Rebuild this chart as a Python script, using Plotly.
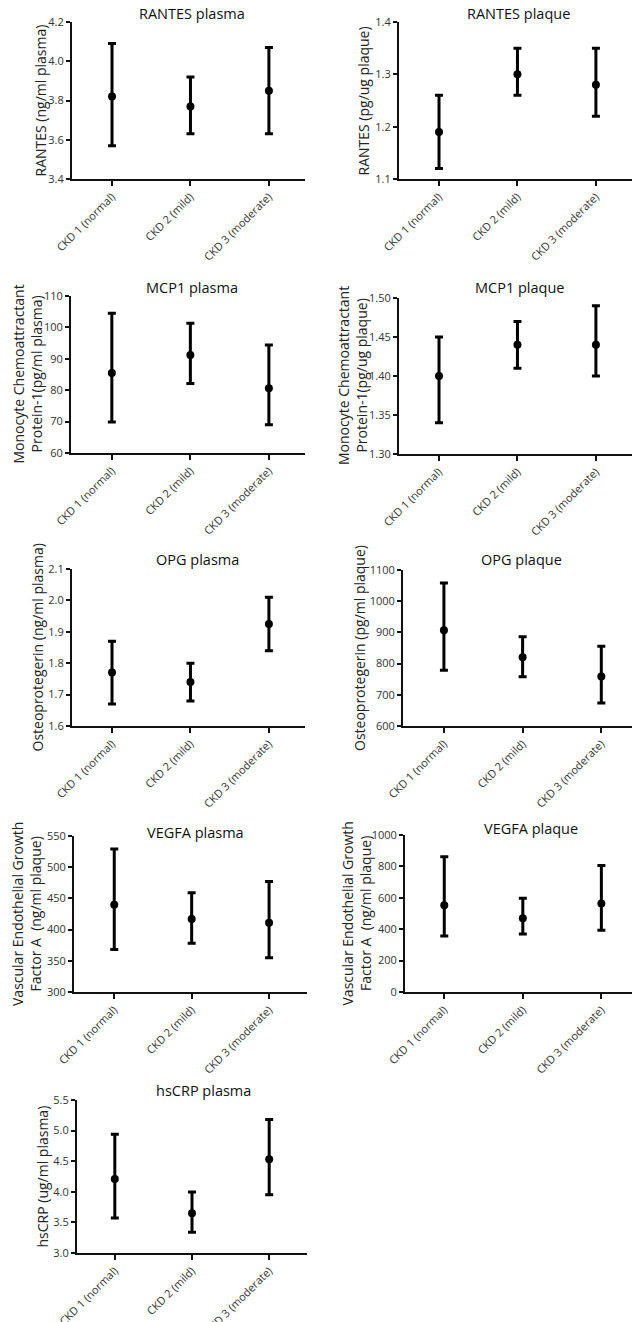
import plotly.graph_objects as go

W, H = 632, 1322

categories = ["CKD 1 (normal)", "CKD 2 (mild)", "CKD 3 (moderate)"]

# Panel titles and axis titles
titles = ["RANTES plasma", "RANTES plaque", "MCP1 plasma", "MCP1 plaque",
          "OPG plasma", "OPG plaque", "VEGFA plasma", "VEGFA plaque", "hsCRP plasma"]
ytitles = ["RANTES (ng/ml plasma)", "RANTES (pg/ug plaque)",
           "Monocyte Chemoattractant<br>Protein-1(pg/ml plasma)",
           "Monocyte Chemoattractant<br>Protein-1(pg/ug plaque)",
           "Osteoprotegerin (ng/ml plasma)", "Osteoprotegerin (pg/ml plaque)",
           "Vascular Endothelial Growth<br>Factor A  (ng/ml plaque)",
           "Vascular Endothelial Growth<br>Factor A  (ng/ml plaque)",
           "hsCRP (ug/ml plasma)"]

# Values (mean, upper, lower) per panel
rantes_plasma_mean = [3.82, 3.77, 3.85]
rantes_plasma_hi = [4.09, 3.92, 4.07]
rantes_plasma_lo = [3.57, 3.63, 3.63]

rantes_plaque_mean = [1.19, 1.30, 1.28]
rantes_plaque_hi = [1.26, 1.35, 1.35]
rantes_plaque_lo = [1.12, 1.26, 1.22]

mcp1_plasma_mean = [85.5, 91.2, 80.6]
mcp1_plasma_hi = [104.5, 101.3, 94.4]
mcp1_plasma_lo = [69.9, 82.1, 69.0]

mcp1_plaque_mean = [1.40, 1.44, 1.44]
mcp1_plaque_hi = [1.45, 1.47, 1.49]
mcp1_plaque_lo = [1.34, 1.41, 1.40]

opg_plasma_mean = [1.77, 1.74, 1.925]
opg_plasma_hi = [1.87, 1.80, 2.01]
opg_plasma_lo = [1.67, 1.68, 1.84]

opg_plaque_mean = [907, 820, 759]
opg_plaque_hi = [1058, 886, 856]
opg_plaque_lo = [779, 758, 674]

vegfa_plasma_mean = [440, 417, 411]
vegfa_plasma_hi = [529, 459, 477]
vegfa_plasma_lo = [368, 378, 355]

vegfa_plaque_mean = [552, 469, 563]
vegfa_plaque_hi = [862, 597, 805]
vegfa_plaque_lo = [357, 369, 393]

hscrp_plasma_mean = [4.21, 3.65, 4.53]
hscrp_plasma_hi = [4.94, 3.995, 5.18]
hscrp_plasma_lo = [3.57, 3.34, 3.95]

# y-axis ranges and tick steps
y_ranges = [[3.4, 4.2], [1.1, 1.4], [60, 110], [1.30, 1.50], [1.6, 2.1],
            [600, 1100], [300, 550], [0, 1000], [3.0, 5.5]]
y_dticks = [0.2, 0.1, 10, 0.05, 0.1, 100, 50, 200, 0.5]
y_formats = [".1f", ".1f", "d", ".2f", ".1f", "d", "d", "d", ".1f"]

series = [
    (rantes_plasma_mean, rantes_plasma_hi, rantes_plasma_lo),
    (rantes_plaque_mean, rantes_plaque_hi, rantes_plaque_lo),
    (mcp1_plasma_mean, mcp1_plasma_hi, mcp1_plasma_lo),
    (mcp1_plaque_mean, mcp1_plaque_hi, mcp1_plaque_lo),
    (opg_plasma_mean, opg_plasma_hi, opg_plasma_lo),
    (opg_plaque_mean, opg_plaque_hi, opg_plaque_lo),
    (vegfa_plasma_mean, vegfa_plasma_hi, vegfa_plasma_lo),
    (vegfa_plaque_mean, vegfa_plaque_hi, vegfa_plaque_lo),
    (hscrp_plasma_mean, hscrp_plasma_hi, hscrp_plasma_lo),
]

# Layout geometry in pixels: (x0, x1, y_top, y_bottom), x range, title pos, ytitle pos
boxes = [
    (72, 305, 22, 179), (399, 632, 22, 179),
    (71, 305, 296, 453), (399, 632, 298, 454),
    (72, 305, 569, 726), (403, 632, 570, 726),
    (74, 307, 836, 992), (405, 632, 835, 992),
    (77, 307, 1100, 1253),
]
x_ranges = [[-0.51, 2.46], [-0.51, 2.46], [-0.52, 2.46], [-0.51, 2.46],
            [-0.51, 2.46], [-0.52, 2.39], [-0.52, 2.49], [-0.50, 2.39],
            [-0.49, 2.49]]
title_pos = [(192, 14), (518, 14), (192, 287), (519, 287), (197, 560),
             (521, 559), (195, 832), (531, 828), (203, 1090)]
ytitle_x = [40, 363, 27, 352, 37, 359, 26, 356, 42]

FONT = "Open Sans, Noto Sans, sans-serif"

fig = go.Figure()
layout = dict(width=W, height=H, margin=dict(l=0, r=0, t=0, b=0, pad=0, autoexpand=False),
              paper_bgcolor="white", plot_bgcolor="white", showlegend=False,
              font=dict(family=FONT, color="#222"))
annotations = []

for i, ((m, hi, lo), box) in enumerate(zip(series, boxes)):
    k = "" if i == 0 else str(i + 1)
    x0, x1, yt, yb = box
    fig.add_trace(go.Scatter(
        x=[0, 1, 2], y=m, mode="markers",
        marker=dict(color="black", size=8),
        error_y=dict(type="data", symmetric=False,
                     array=[h - v for h, v in zip(hi, m)],
                     arrayminus=[v - l for v, l in zip(m, lo)],
                     color="black", thickness=3, width=4),
        xaxis="x" + k, yaxis="y" + k, cliponaxis=False,
    ))
    layout["xaxis" + k] = dict(
        domain=[x0 / W, x1 / W], anchor="y" + k, range=x_ranges[i], automargin=False,
        tickmode="array", tickvals=[0, 1, 2], ticktext=categories,
        tickangle=-45, ticks="outside", ticklen=5, tickwidth=2, tickcolor="#111",
        showline=True, linewidth=2, linecolor="#111", showgrid=False, zeroline=False,
        tickfont=dict(size=11, color="#333", family=FONT), fixedrange=True,
    )
    layout["yaxis" + k] = dict(
        domain=[1 - yb / H, 1 - yt / H], anchor="x" + k, range=y_ranges[i], automargin=False,
        tick0=y_ranges[i][0], dtick=y_dticks[i], tickformat=y_formats[i],
        ticks="outside", ticklen=4, tickwidth=2, tickcolor="#111",
        showline=True, linewidth=2, linecolor="#111", showgrid=False, zeroline=False,
        tickfont=dict(size=11, color="#333", family=FONT), fixedrange=True,
    )
    tx, ty = title_pos[i]
    annotations.append(dict(text=titles[i], x=tx / W, y=1 - ty / H, xref="paper", yref="paper",
                            xanchor="center", yanchor="middle", showarrow=False,
                            font=dict(size=14.5, color="#111", family=FONT)))
    annotations.append(dict(text=ytitles[i], x=ytitle_x[i] / W, y=1 - ((yt + yb) / 2) / H,
                            xref="paper", yref="paper", textangle=-90,
                            xanchor="center", yanchor="middle", showarrow=False,
                            font=dict(size=14, color="#222", family=FONT)))

layout["annotations"] = annotations
fig.update_layout(**layout)
fig.write_html(
    "out.html",
    config={"displayModeBar": False, "staticPlot": True},
    post_script="document.body.style.margin='0';document.body.style.overflow='hidden';"
                "document.documentElement.style.overflow='hidden';",
)
